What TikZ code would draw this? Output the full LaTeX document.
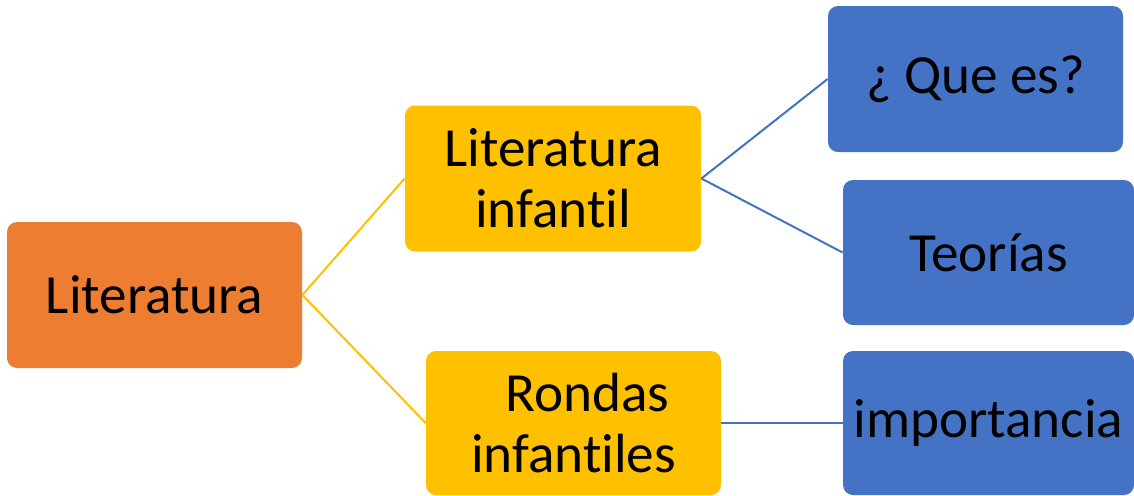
\documentclass[tikz,border=0pt]{standalone}
\usepackage{fontspec}
\setmainfont{Carlito}[Ligatures=NoCommon]
\definecolor{cOrange}{HTML}{ED7D31}
\definecolor{cGold}{HTML}{FFC000}
\definecolor{cBlue}{HTML}{4472C4}

\begin{document}
\begin{tikzpicture}[x=0.5pt,y=-0.5pt,
  box/.style={rectangle, rounded corners=5pt, inner sep=0pt, minimum width=147.5pt, minimum height=73pt, align=center, text=black, font=\fontsize{27.6}{30.5}\selectfont},
  link/.style={line width=1pt}]
\def\cRoot{cOrange}
\def\cMid{cGold}
\def\cLeaf{cBlue}
\useasboundingbox (0,0) rectangle (1134,495);
% levels
\node[box, fill=\cRoot] (lit) at (154.5,295) {Literatura};
\node[box, fill=\cMid, minimum width=148pt] (litinf) at (553,178.5) {Literatura\\infantil};
\node[box, fill=\cMid, minimum height=72pt] (rondas) at (573.5,423) {\hspace*{14pt}Rondas\\infantiles};
\node[box, fill=\cLeaf] (que) at (975.5,79) {¿ Que es?};
\node[box, fill=\cLeaf, minimum width=145.5pt, minimum height=72.5pt] (teo) at (988.5,252.5) {Teorías};
\node[box, fill=\cLeaf, minimum width=145.5pt, minimum height=72pt] (imp) at (988.5,423) {importancia};
% links
\draw[\cMid, link] (lit.east) -- (litinf.west);
\draw[\cMid, link] (lit.east) -- (rondas.west);
\draw[\cLeaf, link] (litinf.east) -- (que.west);
\draw[\cLeaf, link] (litinf.east) -- (teo.west);
\draw[\cLeaf, link] (rondas.east) -- (imp.west);
\end{tikzpicture}
\end{document}
